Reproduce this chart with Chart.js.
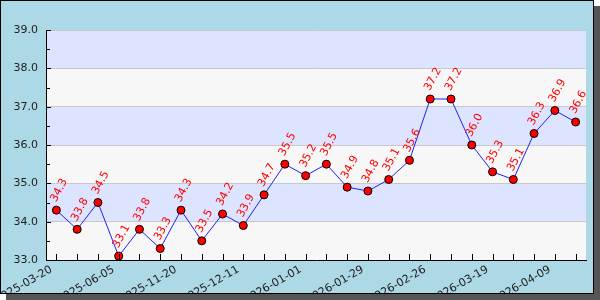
<!DOCTYPE html>
<html>
<head>
<meta charset="utf-8">
<script src="https://cdn.jsdelivr.net/npm/chart.js@4/dist/chart.umd.min.js"></script>
<style>
  html, body { margin: 0; padding: 0; background: #ffffff; }
  #frame {
    position: absolute; left: 0; top: 0;
    width: 592px; height: 292px;
    border: 1px solid #000;
    background: #add8e6;
    box-shadow: 6px 6px 0 #555555;
    overflow: hidden;
  }
  #chart { display: block; }
</style>
</head>
<body>
<div id="frame"><canvas id="chart" width="592" height="292"></canvas></div>
<script>
// dates shown under every third point, the rest are not printed in the picture
const dateLabels = [
  "2025-03-20", "", "", "2025-06-05", "", "", "2025-11-20", "", "", "2025-12-11",
  "", "", "2026-01-01", "", "", "2026-01-29", "", "", "2026-02-26", "",
  "", "2026-03-19", "", "", "2026-04-09", ""
];
const values = [
  34.3, 33.8, 34.5, 33.1, 33.8, 33.3, 34.3, 33.5, 34.2, 33.9,
  34.7, 35.5, 35.2, 35.5, 34.9, 34.8, 35.1, 35.6, 37.2, 37.2,
  36.0, 35.3, 35.1, 36.3, 36.9, 36.6
];
const yMin = 33;
const yMax = 39;

const bandColors = ["#f7f7f7", "#dde4ff"];

const bandsPlugin = {
  id: "bands",
  beforeDraw(chart) {
    const { ctx, chartArea, scales } = chart;
    const y = scales.y;
    ctx.save();
    for (let v = yMin; v < yMax; v++) {
      const top = y.getPixelForValue(v + 1);
      const bottom = y.getPixelForValue(v);
      ctx.fillStyle = bandColors[(v - yMin) % 2];
      ctx.fillRect(chartArea.left, top, chartArea.right - chartArea.left, bottom - top);
    }
    ctx.restore();
  }
};

// ticks point into the plot on both axes
const innerTicksPlugin = {
  id: "innerTicks",
  afterDatasetsDraw(chart) {
    const { ctx, chartArea, scales } = chart;
    ctx.save();
    ctx.strokeStyle = "#000";
    ctx.lineWidth = 1;
    ctx.beginPath();
    for (let i = 0; i < values.length; i++) {
      const x = Math.round(scales.x.getPixelForValue(i)) + 0.5;
      ctx.moveTo(x, chartArea.bottom);
      ctx.lineTo(x, chartArea.bottom - 6);
    }
    for (let v = yMin; v <= yMax; v += 0.5) {
      const yy = Math.round(scales.y.getPixelForValue(v)) + 0.5;
      const len = Number.isInteger(v) ? 5 : 4;
      ctx.moveTo(chartArea.left, yy);
      ctx.lineTo(chartArea.left + len, yy);
    }
    ctx.stroke();
    ctx.restore();
  }
};

const valueLabelsPlugin = {
  id: "valueLabels",
  afterDatasetsDraw(chart) {
    const { ctx } = chart;
    const meta = chart.getDatasetMeta(0);
    ctx.save();
    ctx.fillStyle = "#ff0000";
    ctx.font = "11px 'DejaVu Sans'";
    ctx.textAlign = "left";
    ctx.textBaseline = "middle";
    meta.data.forEach((pt, i) => {
      ctx.save();
      ctx.translate(pt.x - 3, pt.y - 9);
      ctx.rotate(-62 * Math.PI / 180);
      ctx.fillText(values[i].toFixed(1), 0, 0);
      ctx.restore();
    });
    ctx.restore();
  }
};

const ctx = document.getElementById("chart").getContext("2d");
const chart = new Chart(ctx, {
  type: "line",
  data: {
    labels: dateLabels,
    datasets: [
      {
        data: values,
        borderColor: "#2020ff",
        borderWidth: 1,
        backgroundColor: "#ff0000",
        pointBackgroundColor: "#ff0000",
        pointBorderColor: "#000000",
        pointBorderWidth: 1,
        pointRadius: 4,
        tension: 0,
        fill: false,
      },
    ],
  },
  options: {
    responsive: false,
    animation: false,
    layout: {
      padding: { left: 0, top: 29, right: 7, bottom: 0 },
    },
    plugins: {
      legend: { display: false },
      tooltip: { enabled: false },
    },
    scales: {
      x: {
        offset: true,
        grid: { display: false, drawTicks: false },
        border: { display: true, color: "#000", width: 1 },
        ticks: {
          autoSkip: false,
          minRotation: 30,
          maxRotation: 30,
          labelOffset: -5,
          padding: 3,
          color: "#222",
          font: { family: "DejaVu Sans", size: 11 },
        },
        afterFit(scale) {
          scale.height = 33;
          scale.paddingLeft = 0;
          scale.paddingRight = 0;
        },
      },
      y: {
        min: yMin,
        max: yMax,
        grid: { color: "#c8c8c8", drawTicks: false },
        border: { display: true, color: "#000", width: 1 },
        ticks: {
          stepSize: 1,
          padding: 8,
          color: "#222",
          font: { family: "DejaVu Sans", size: 11 },
          callback: (v) => Number(v).toFixed(1),
        },
        afterFit(scale) {
          scale.width = 45;
          scale.paddingTop = 0;
          scale.paddingBottom = 0;
        },
      },
    },
  },
  plugins: [bandsPlugin, innerTicksPlugin, valueLabelsPlugin],
});
</script>
</body>
</html>
